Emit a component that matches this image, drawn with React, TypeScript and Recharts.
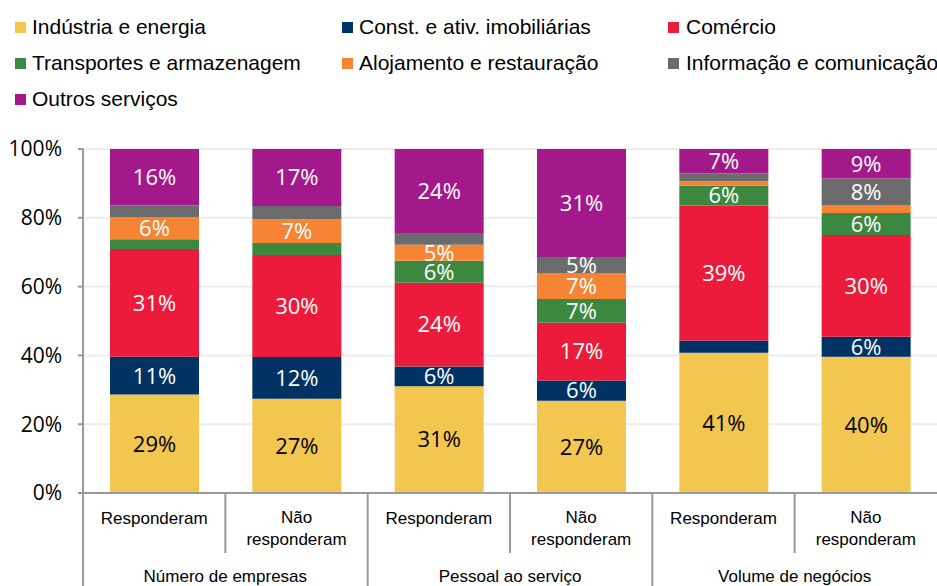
import React from 'react';
import { BarChart, Bar, XAxis, YAxis, CartesianGrid, Legend, LabelList } from 'recharts';

const groups = ['Número de empresas', 'Número de empresas', 'Pessoal ao serviço', 'Pessoal ao serviço', 'Volume de negócios', 'Volume de negócios'];
const subs = ['Responderam', 'Não responderam', 'Responderam', 'Não responderam', 'Responderam', 'Não responderam'];

const industria = [28.6, 27.4, 31.0, 26.8, 40.8, 39.6];
const construcao = [11.0, 12.1, 5.8, 5.9, 3.5, 5.8];
const comercio = [31.3, 29.7, 24.3, 16.8, 39.3, 29.6];
const transportes = [2.9, 3.5, 6.4, 6.9, 5.8, 6.4];
const alojamento = [6.4, 6.9, 4.7, 7.4, 1.2, 2.3];
const informacao = [3.4, 3.8, 3.4, 4.8, 2.3, 7.7];
const outros = [16.4, 16.6, 24.4, 31.4, 7.1, 8.6];

const yTicks = [0, 20, 40, 60, 80, 100];

const seriesNames = ['Indústria e energia', 'Const. e ativ. imobiliárias', 'Comércio', 'Transportes e armazenagem', 'Alojamento e restauração', 'Informação e comunicação', 'Outros serviços'];
const seriesKeys = ['industria', 'construcao', 'comercio', 'transportes', 'alojamento', 'informacao', 'outros'];
const seriesValues = [industria, construcao, comercio, transportes, alojamento, informacao, outros];
const seriesColors = ['#F2C64F', '#003263', '#ED1B3B', '#3C8841', '#F58434', '#6B6B6B', '#A3198B'];
const labelColors = ['#000', '#fff', '#fff', '#fff', '#fff', '#fff', '#fff'];

const data = subs.map((s, i) => {
  const row: any = { sub: s, group: groups[i] };
  seriesKeys.forEach((k, j) => { row[k] = seriesValues[j][i]; });
  return row;
});

const LEG_FONT = "'Liberation Sans', Arial, sans-serif";
const NUM_FONT = "'Open Sans', sans-serif";

const LegendContent = () => (
  <div style={{ height: 120, width: 960, boxSizing: 'border-box', paddingTop: 9, paddingLeft: 15, display: 'grid', gridTemplateColumns: '327px 326px 300px', gridAutoRows: '36px', fontFamily: LEG_FONT, fontSize: 21, color: '#000' }}>
    {seriesNames.map((n, i) => (
      <div key={n} style={{ display: 'flex', alignItems: 'center', whiteSpace: 'nowrap' }}>
        <span style={{ display: 'inline-block', flexShrink: 0, width: 11, height: 11, background: seriesColors[i], marginRight: i % 3 === 2 ? 7 : 6 }} />
        <span>{n}</span>
      </div>
    ))}
  </div>
);

const SubTick = (props: any) => {
  const { x, y, payload, index, width, visibleTicksCount } = props;
  const bw = width / visibleTicksCount;
  const left = x - bw / 2;
  const words = String(payload.value).split(' ');
  const isGroupStart = index % 2 === 0;
  return (
    <g>
      <line x1={left} x2={left} y1={y} y2={isGroupStart ? y + 93 : y + 60} stroke="#999" strokeWidth={2} />
      {words.length === 1 ? (
        <text x={x} y={y + 31} textAnchor="middle" fontFamily={LEG_FONT} fontSize={17} fill="#000">{words[0]}</text>
      ) : (
        <text x={x} textAnchor="middle" fontFamily={LEG_FONT} fontSize={17} fill="#000">
          <tspan x={x} y={y + 30}>{words[0]}</tspan>
          <tspan x={x} y={y + 52}>{words[1]}</tspan>
        </text>
      )}
      {!isGroupStart && (
        <text x={left} y={y + 89} textAnchor="middle" fontFamily={LEG_FONT} fontSize={17} fill="#000">{groups[index]}</text>
      )}
    </g>
  );
};

const fmt = (v: any) => (Number(v) >= 4.5 ? `${Math.round(Number(v))}%` : '');

export default function App() {
  return (
    <div style={{ width: 937, height: 586, overflow: 'hidden' }}>
      <style>{`body{margin:0;}`}</style>
      <BarChart width={937} height={586} data={data} margin={{ top: 29, right: 0, left: 0, bottom: 0 }} barSize={89}>
        <Legend verticalAlign="top" align="left" wrapperStyle={{ top: 0, left: 0, width: 937, overflow: 'hidden' }} content={LegendContent} />
        <CartesianGrid vertical={false} stroke="#ececec" strokeWidth={2} />
        <XAxis dataKey="sub" height={93} tickSize={0} tickMargin={0} axisLine={{ stroke: '#999', strokeWidth: 2 }} tickLine={false} tick={SubTick} interval={0} />
        <YAxis type="number" domain={[0, 100]} ticks={yTicks} width={83} tickSize={5} tickMargin={16}
          tickFormatter={(v: number) => `${v}%`}
          axisLine={{ stroke: '#999', strokeWidth: 2 }} tickLine={{ stroke: '#999', strokeWidth: 2 }}
          tick={{ fill: '#000', fontSize: 21, fontFamily: NUM_FONT }} />
        {seriesKeys.map((k, j) => (
          <Bar key={k} dataKey={k} name={seriesNames[j]} stackId="a" fill={seriesColors[j]} isAnimationActive={false}>
            <LabelList dataKey={k} position="center" formatter={fmt} fill={labelColors[j]} fontSize={22} fontFamily={NUM_FONT} />
          </Bar>
        ))}
      </BarChart>
    </div>
  );
}
